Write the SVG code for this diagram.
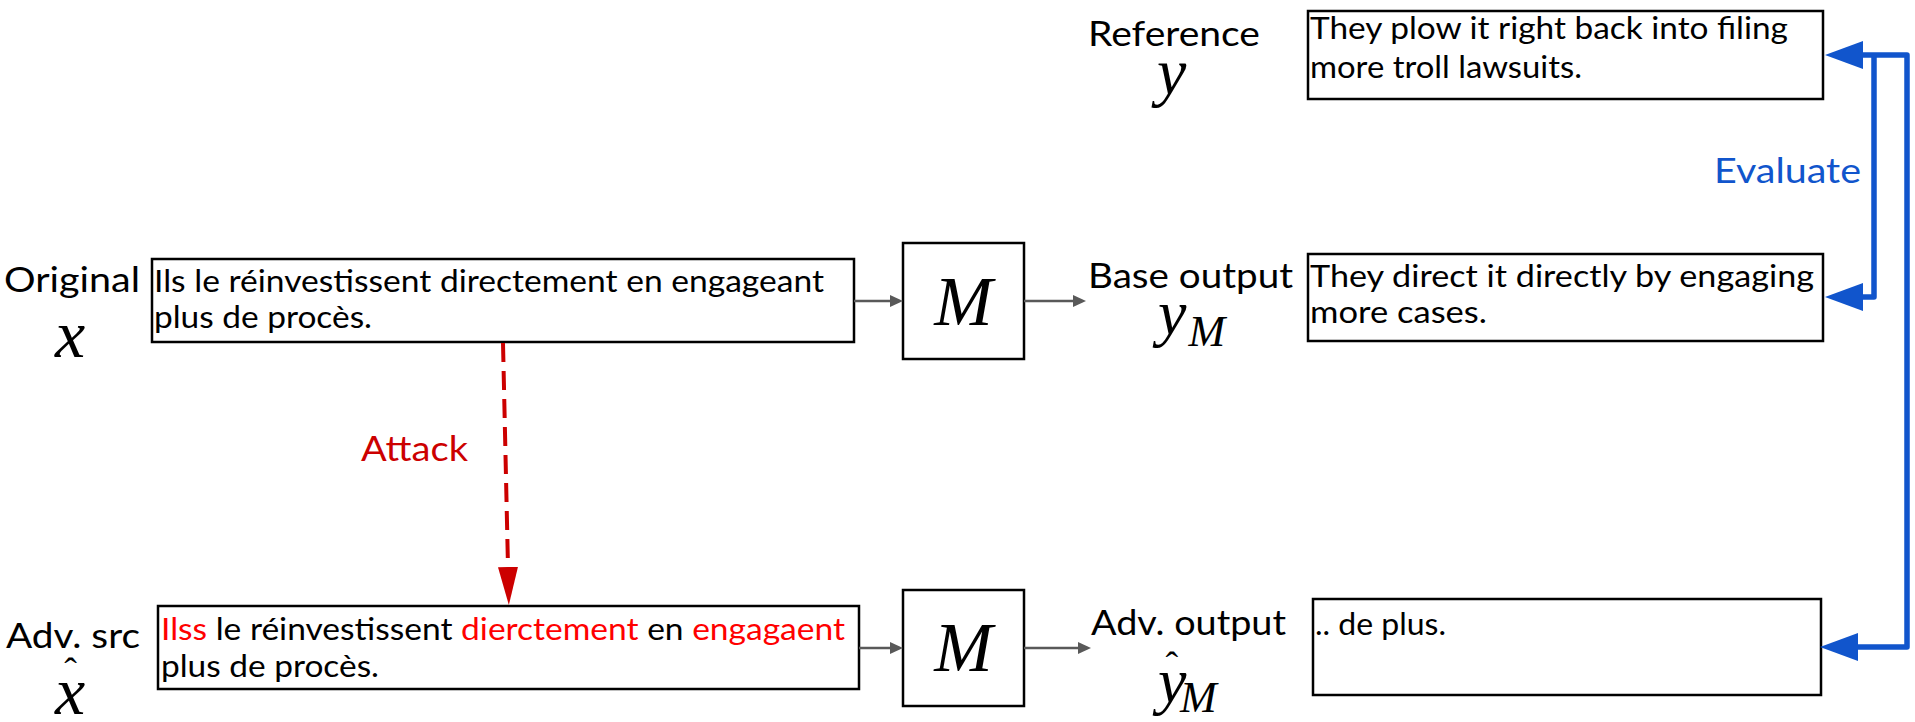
<svg xmlns="http://www.w3.org/2000/svg" width="1915" height="722" viewBox="0 0 1915 722">
  <style>
    .lbl { font-family: Lato, "Noto Sans", "Liberation Sans", sans-serif; font-size: 34px; fill: #000; }
    .txt { font-family: Lato, "Noto Sans", "Liberation Sans", sans-serif; font-size: 31px; fill: #000; }
    .math { font-family: "Liberation Serif", "DejaVu Serif", serif; font-style: italic; fill: #000; }
    .hat { font-style: normal; font-size: 38px; }
    .box { fill: #fff; stroke: #000; stroke-width: 2.5; }
    .adv { fill: #ff0000; }
    .flow { fill: none; stroke: #595959; stroke-width: 2.5; }
    .attack { fill: none; stroke: #cc0000; stroke-width: 4; stroke-dasharray: 19 9; }
    .eval { fill: none; stroke: #1155cc; stroke-width: 5.5; stroke-linejoin: round; }
  </style>
  <defs>
    <marker id="head-gray" markerUnits="userSpaceOnUse" markerWidth="13" markerHeight="12" refX="0" refY="6" orient="auto">
      <path d="M0,0 L13,6 L0,12 z" fill="#595959"/>
    </marker>
    <marker id="head-red" markerUnits="userSpaceOnUse" markerWidth="38" markerHeight="20" refX="0" refY="10" orient="auto">
      <path d="M0,0 L38,10 L0,20 z" fill="#cc0000"/>
    </marker>
    <marker id="head-blue" markerUnits="userSpaceOnUse" markerWidth="38" markerHeight="28" refX="0" refY="14" orient="auto-start-reverse">
      <path d="M0,0 L38,14 L0,28 z" fill="#1155cc"/>
    </marker>
  </defs>

  <rect width="1915" height="722" fill="#fff"/>

  <!-- source sentence -->
  <g id="original">
    <text class="lbl" x="4" y="292" textLength="136" lengthAdjust="spacingAndGlyphs">Original</text>
    <text class="math" x="55" y="357" font-size="68">x</text>
    <rect class="box" x="152" y="259" width="702" height="83"/>
    <text class="txt" x="154" y="292" textLength="670" lengthAdjust="spacingAndGlyphs">Ils le réinvestissent directement en engageant</text>
    <text class="txt" x="154" y="328" textLength="218" lengthAdjust="spacingAndGlyphs">plus de procès.</text>
  </g>

  <!-- adversarial source -->
  <g id="adv-src">
    <text class="lbl" x="6" y="648" textLength="134" lengthAdjust="spacingAndGlyphs">Adv. src</text>
    <text class="math" x="55" y="714" font-size="68">x<tspan class="hat" dx="-21" dy="-30">ˆ</tspan></text>
    <rect class="box" x="158" y="606" width="701" height="83"/>
    <text class="txt" x="161" y="640" textLength="684" lengthAdjust="spacingAndGlyphs"><tspan class="adv">Ilss</tspan> le réinvestissent <tspan class="adv">dierctement</tspan> en <tspan class="adv">engagaent</tspan></text>
    <text class="txt" x="161" y="677" textLength="218" lengthAdjust="spacingAndGlyphs">plus de procès.</text>
  </g>

  <!-- model, clean input -->
  <g id="model-base">
    <rect class="box" x="903" y="243" width="121" height="116"/>
    <text class="math" x="963.5" y="325" font-size="70" text-anchor="middle">M</text>
  </g>

  <!-- model, adversarial input -->
  <g id="model-adv">
    <rect class="box" x="903" y="590" width="121" height="116"/>
    <text class="math" x="963.5" y="671" font-size="70" text-anchor="middle">M</text>
  </g>

  <!-- reference translation -->
  <g id="reference">
    <text class="lbl" x="1088" y="46" textLength="172" lengthAdjust="spacingAndGlyphs">Reference</text>
    <text class="math" x="1157" y="94" font-size="66">y</text>
    <rect class="box" x="1308" y="11" width="515" height="88"/>
    <text class="txt" x="1310" y="39" textLength="478" lengthAdjust="spacingAndGlyphs">They plow it right back into filing</text>
    <text class="txt" x="1310" y="78" textLength="272" lengthAdjust="spacingAndGlyphs">more troll lawsuits.</text>
  </g>

  <!-- output on clean input -->
  <g id="base-output">
    <text class="lbl" x="1088" y="288" textLength="205" lengthAdjust="spacingAndGlyphs">Base output</text>
    <text class="math" x="1158" y="334" font-size="64">y<tspan font-size="44" dx="2" dy="12">M</tspan></text>
    <rect class="box" x="1308" y="254" width="515" height="87"/>
    <text class="txt" x="1310" y="287" textLength="504" lengthAdjust="spacingAndGlyphs">They direct it directly by engaging</text>
    <text class="txt" x="1310" y="323" textLength="177" lengthAdjust="spacingAndGlyphs">more cases.</text>
  </g>

  <!-- output on adversarial input -->
  <g id="adv-output">
    <text class="lbl" x="1091" y="635" textLength="195" lengthAdjust="spacingAndGlyphs">Adv. output</text>
    <text class="math" x="1158" y="702" font-size="64">y<tspan class="hat" dx="-21" dy="-24">ˆ</tspan><tspan font-size="44" dx="2" dy="34">M</tspan></text>
    <rect class="box" x="1313" y="599" width="508" height="96"/>
    <text class="txt" x="1315" y="635" textLength="131" lengthAdjust="spacingAndGlyphs">.. de plus.</text>
  </g>

  <!-- connectors -->
  <g id="connectors">
    <path class="flow" d="M854,301 H890" marker-end="url(#head-gray)"/>
    <path class="flow" d="M1024,301 H1073" marker-end="url(#head-gray)"/>
    <path class="flow" d="M859,648 H890" marker-end="url(#head-gray)"/>
    <path class="flow" d="M1024,648 H1078" marker-end="url(#head-gray)"/>

    <path class="attack" d="M503,343 L508,567" marker-end="url(#head-red)"/>
    <text x="361" y="461" font-family="Lato, 'Noto Sans', 'Liberation Sans', sans-serif" font-size="35" fill="#cc0000" textLength="107" lengthAdjust="spacingAndGlyphs">Attack</text>

    <path class="eval" d="M1863,55 H1907 V647 H1858" marker-start="url(#head-blue)" marker-end="url(#head-blue)"/>
    <path class="eval" d="M1874,55 V297 H1863" marker-end="url(#head-blue)"/>
    <text x="1714" y="183" font-family="Lato, 'Noto Sans', 'Liberation Sans', sans-serif" font-size="35" fill="#1155cc" textLength="147" lengthAdjust="spacingAndGlyphs">Evaluate</text>
  </g>
</svg>
